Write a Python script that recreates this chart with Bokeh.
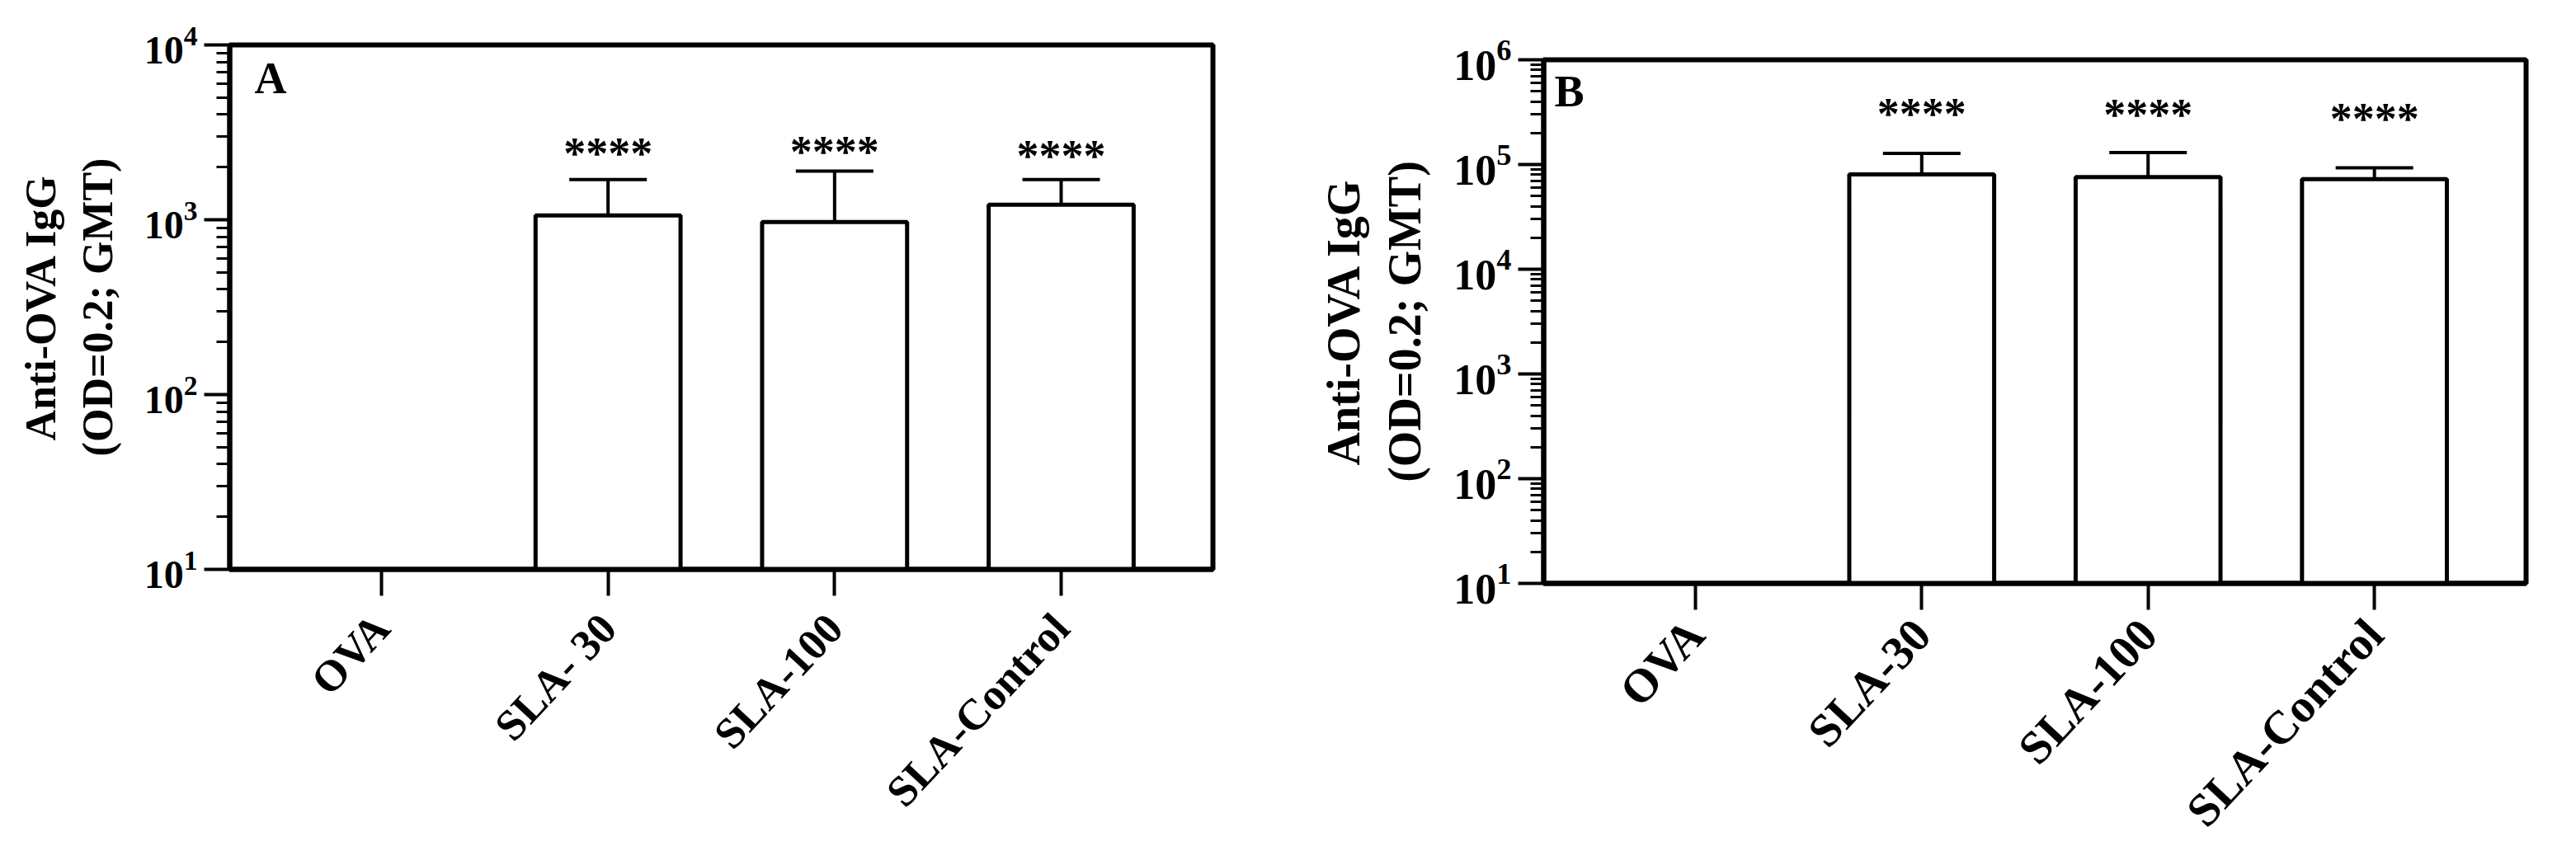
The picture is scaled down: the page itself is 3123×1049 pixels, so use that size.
import math
from bokeh.plotting import figure
from bokeh.layouts import row, column, Spacer
from bokeh.models import ColumnDataSource, Whisker, TeeHead, Range1d, FactorRange, Label, FixedTicker
from bokeh.embed import file_html
from bokeh.resources import INLINE
from bokeh.core.properties import value

NaN = float("nan")

# ---------------- data ----------------
groups_a = ["OVA", "SLA- 30", "SLA-100", "SLA-Control"]
titer_a = [NaN, 1060, 970, 1220]          # GMT, panel A
upper_a = [NaN, 1700, 1900, 1700]         # GMT + error
sig_a = ["", "****", "****", "****"]

groups_b = ["OVA", "SLA-30", "SLA-100", "SLA-Control"]
titer_b = [NaN, 80300, 75700, 72600]      # GMT, panel B
upper_b = [NaN, 128000, 130000, 93000]
sig_b = ["", "****", "****", "****"]

y_title = "Anti-OVA IgG\n(OD=0.2; GMT)"

FONT = "Liberation Serif"


def log_ticks(lo_exp, hi_exp):
    major = [10.0 ** e for e in range(lo_exp, hi_exp + 1)]
    minor = [m * 10.0 ** e for e in range(lo_exp, hi_exp) for m in range(2, 10)]
    return major, minor


def panel(groups, titer, upper, sig, exp_range, letter, letter_pos, star_y,
          frame, borders, fs_tick, fs_title, fs_x, x_standoff):
    keep = [i for i, v in enumerate(titer) if not math.isnan(v)]
    src = ColumnDataSource(dict(
        cat=[groups[i] for i in keep],
        val=[titer[i] for i in keep],
        upper=[upper[i] for i in keep],
        sig=[sig[i] for i in keep],
        sy=[star_y[i] for i in keep],
    ))
    left, right, top, bottom = borders
    lo, hi = exp_range
    p = figure(
        x_range=FactorRange(factors=groups, range_padding=0.17, range_padding_units="absolute"),
        y_range=Range1d(10.0 ** lo, 10.0 ** hi), y_axis_type="log",
        frame_width=frame[0], frame_height=frame[1],
        min_border_left=left, min_border_right=right,
        min_border_top=top, min_border_bottom=bottom,
        output_backend="svg", toolbar_location=None, tools="", title=None,
    )
    p.xgrid.visible = False
    p.ygrid.visible = False
    p.outline_line_color = "black"
    p.outline_line_width = 6
    p.outline_line_alpha = 1.0
    p.background_fill_color = "white"

    major, minor = log_ticks(lo, hi)
    ya = p.yaxis[0]
    ya.ticker = FixedTicker(ticks=major, minor_ticks=minor)
    ya.axis_line_width = 6
    ya.major_tick_out = 31
    ya.major_tick_in = 0
    ya.minor_tick_out = 16
    ya.minor_tick_in = 0
    ya.major_tick_line_width = 4
    ya.minor_tick_line_width = 3
    ya.major_label_text_font = FONT
    ya.major_label_text_font_style = "bold"
    ya.major_label_text_font_size = fs_tick
    ya.major_label_text_color = "black"
    ya.major_label_standoff = 8
    ya.axis_label = y_title
    ya.axis_label_text_font = FONT
    ya.axis_label_text_font_style = "bold"
    ya.axis_label_text_font_size = fs_title
    ya.axis_label_text_color = "black"
    ya.axis_label_standoff = 25

    xa = p.xaxis[0]
    xa.axis_line_width = 6
    xa.major_tick_out = 32
    xa.major_tick_in = 0
    xa.major_tick_line_width = 4
    xa.major_label_orientation = math.radians(47)
    xa.major_label_standoff = x_standoff
    xa.major_label_text_font = FONT
    xa.major_label_text_font_style = "bold"
    xa.major_label_text_font_size = fs_x
    xa.major_label_text_color = "black"

    p.vbar(x="cat", top="val", bottom=10.0 ** lo, width=0.64, source=src,
           fill_color="white", line_color="black", line_width=5)

    w = Whisker(base="cat", lower="val", upper="upper", source=src, dimension="height",
                line_color="black", line_width=4,
                upper_head=TeeHead(size=94, line_width=4, line_color="black"),
                lower_head=None)
    p.add_layout(w)

    p.text(x="cat", y="sy", text="sig", source=src,
           text_font=value(FONT), text_font_size=value("54px"), text_font_style="bold",
           text_align="center", text_baseline="middle", text_color="black")

    p.add_layout(Label(x=letter_pos[0], y=letter_pos[1], text=letter,
                       text_font=FONT, text_font_size="54px", text_font_style="bold",
                       text_align="left", text_baseline="alphabetic", text_color="black"))
    return p


pa = panel(groups_a, titer_a, upper_a, sig_a, (1, 4), "A", (-0.061, 6460),
           [NaN, 2410, 2460, 2330],
           (1192, 636), (278, 82, 54, 300), "48px", "52px", "53px", 30)
pb = panel(groups_b, titer_b, upper_b, sig_b, (1, 6), "B", (-0.123, 495000),
           [NaN, 305000, 299000, 273000],
           (1191, 635), (319, 35, 54, 290), "52px", "56px", "57px", 20)

layout = row(pa, column(Spacer(width=10, height=18), pb))
open("out.html", "w").write(file_html(layout, INLINE))
